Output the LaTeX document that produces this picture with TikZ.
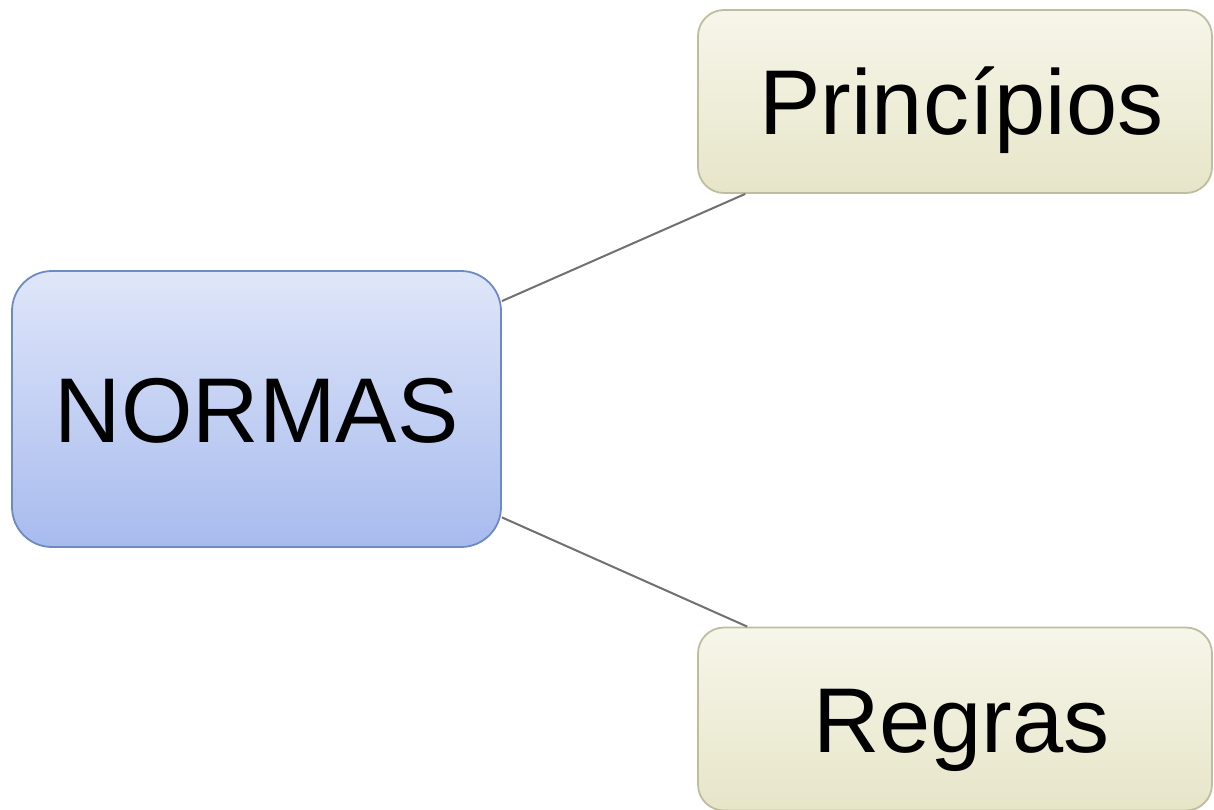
\documentclass[tikz,border=0pt]{standalone}
\usepackage{fontspec}
\setmainfont{Liberation Sans}
\usepackage{tikz}
\usepackage{color}

\definecolor{normasline}{RGB}{108,138,196}
\definecolor{normastop}{RGB}{223,230,249}
\definecolor{normasbot}{RGB}{168,187,238}
\definecolor{leafline}{RGB}{190,190,158}
\definecolor{leaftop}{RGB}{246,246,234}
\definecolor{leafbot}{RGB}{231,229,200}
\definecolor{linkgray}{RGB}{112,112,112}

\begin{document}
\begin{tikzpicture}[%
      x=1pt, y=1pt,
      rootbox/.style={draw=normasline, line width=1.8pt, rounded corners=40pt,
        top color=normastop, bottom color=normasbot,
        minimum width=489pt, minimum height=276pt, inner sep=0pt,
        text height=66pt, text depth=0pt,
        font=\fontsize{92}{100}\selectfont},
      leafbox/.style={draw=leafline, line width=1.8pt, rounded corners=26pt,
        top color=leaftop, bottom color=leafbot,
        minimum width=514pt, minimum height=183pt, inner sep=0pt,
        text height=66pt, text depth=0pt,
        execute at begin node=\hspace*{13pt},
        font=\fontsize{92}{100}\selectfont},
      link/.style={draw=linkgray, line width=2pt},
      ]
      \useasboundingbox (0,0) rectangle (1214,-809);

      \node [rootbox] (normas) at (256.5,-409) {NORMAS};
      \node [leafbox] (principios) at (955,-101.5) {Princípios};
      \node [leafbox] (regras) at (955,-719) {Regras};

      \draw [link] (normas) -- (principios);
      \draw [link] (normas) -- (regras);
      \end{tikzpicture}
\end{document}
